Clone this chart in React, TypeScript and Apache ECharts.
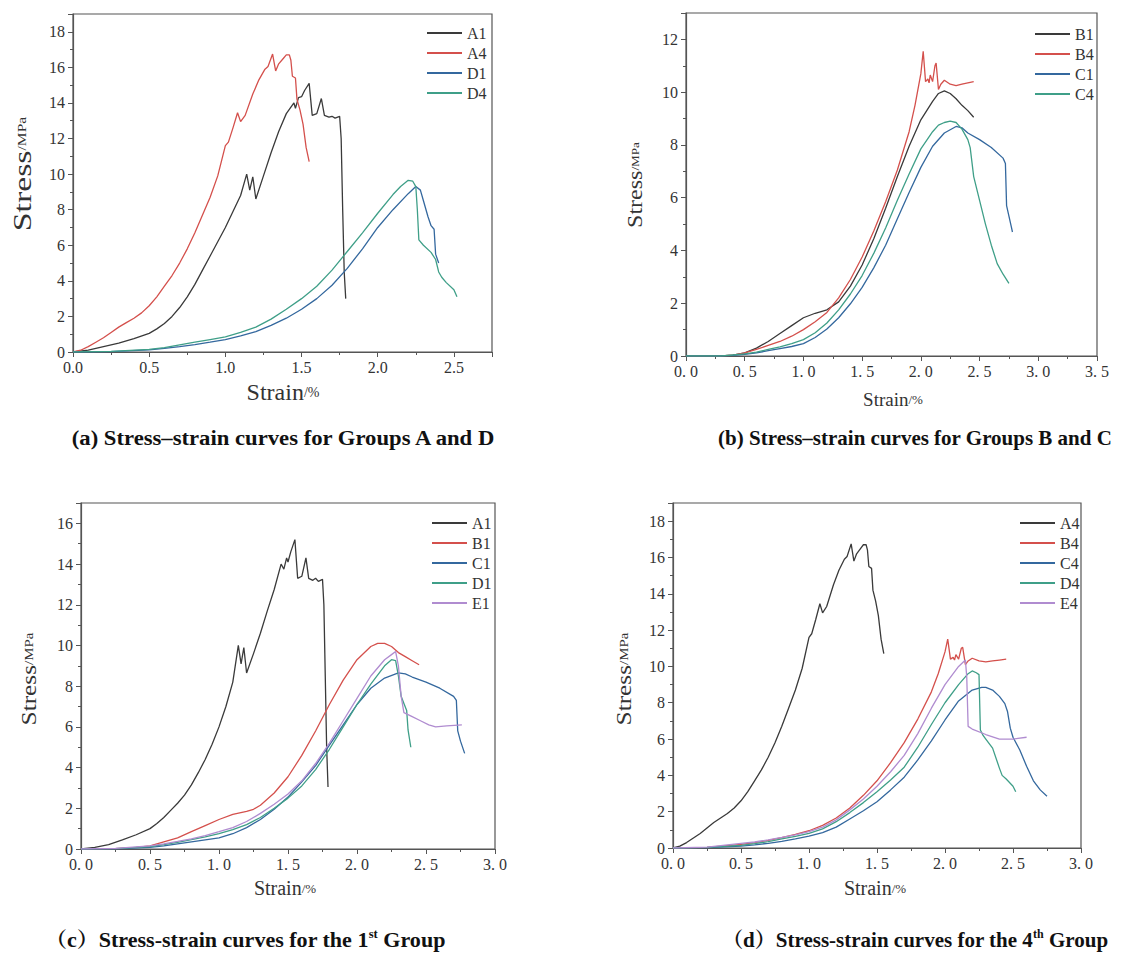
import React, { useEffect, useRef } from 'react';
import * as echarts from 'echarts';

type Pt = [number, number];

// ---------- Panel (a): Groups A and D ----------
const A1_a: Pt[] = [[0,0],[0.1,0.1],[0.2,0.3],[0.3,0.5],[0.4,0.75],[0.5,1.05],[0.55,1.3],[0.6,1.6],[0.65,2.0],[0.7,2.5],[0.75,3.1],[0.8,3.8],[0.85,4.6],[0.9,5.4],[0.95,6.2],[1.0,7.0],[1.05,7.9],[1.1,8.8],[1.14,10.0],[1.16,9.1],[1.18,9.85],[1.2,8.6],[1.25,9.9],[1.3,11.2],[1.35,12.4],[1.4,13.4],[1.45,14.0],[1.46,13.7],[1.48,14.3],[1.5,14.35],[1.52,14.7],[1.55,15.1],[1.57,13.3],[1.6,13.4],[1.63,14.25],[1.65,13.3],[1.68,13.2],[1.7,13.25],[1.72,13.15],[1.75,13.25],[1.76,12.0],[1.77,8.0],[1.78,4.5],[1.79,3.0]];
const A4_a: Pt[] = [[0,0],[0.05,0.1],[0.1,0.3],[0.15,0.55],[0.2,0.8],[0.25,1.1],[0.3,1.4],[0.35,1.65],[0.4,1.9],[0.45,2.2],[0.5,2.6],[0.55,3.1],[0.6,3.7],[0.65,4.3],[0.7,5.0],[0.75,5.8],[0.8,6.7],[0.85,7.7],[0.9,8.7],[0.95,9.9],[1.0,11.6],[1.02,11.8],[1.05,12.6],[1.08,13.45],[1.1,12.95],[1.13,13.3],[1.18,14.5],[1.22,15.3],[1.26,15.9],[1.28,16.05],[1.31,16.75],[1.33,15.8],[1.35,16.2],[1.38,16.5],[1.4,16.7],[1.42,16.7],[1.43,16.4],[1.44,15.5],[1.46,15.4],[1.47,14.2],[1.49,13.6],[1.51,12.8],[1.53,11.5],[1.55,10.7]];
const D1_a: Pt[] = [[0,0],[0.25,0.02],[0.5,0.12],[0.6,0.2],[0.7,0.3],[0.8,0.42],[0.9,0.55],[1.0,0.7],[1.1,0.9],[1.2,1.15],[1.3,1.5],[1.4,1.9],[1.5,2.4],[1.6,3.0],[1.7,3.75],[1.8,4.7],[1.9,5.8],[2.0,7.0],[2.1,8.0],[2.2,8.9],[2.25,9.3],[2.28,9.1],[2.3,8.5],[2.33,7.6],[2.35,7.1],[2.37,6.9],[2.38,5.5],[2.4,5.0]];
const D4_a: Pt[] = [[0,0],[0.25,0.03],[0.5,0.15],[0.6,0.25],[0.7,0.4],[0.8,0.55],[0.9,0.7],[1.0,0.85],[1.1,1.1],[1.2,1.4],[1.3,1.85],[1.4,2.4],[1.5,3.0],[1.6,3.7],[1.7,4.6],[1.8,5.65],[1.9,6.7],[2.0,7.8],[2.1,8.85],[2.15,9.3],[2.2,9.65],[2.23,9.6],[2.25,9.3],[2.26,8.0],[2.27,6.3],[2.3,6.0],[2.35,5.6],[2.38,5.2],[2.4,4.5],[2.42,4.2],[2.45,3.9],[2.5,3.5],[2.52,3.1]];

// ---------- Panel (b): Groups B and C ----------
const B1_b: Pt[] = [[0.3,0],[0.4,0.03],[0.5,0.12],[0.6,0.3],[0.7,0.55],[0.8,0.85],[0.9,1.15],[1.0,1.45],[1.1,1.62],[1.2,1.75],[1.3,2.05],[1.4,2.65],[1.5,3.45],[1.6,4.45],[1.7,5.6],[1.8,6.8],[1.9,7.95],[2.0,8.95],[2.1,9.65],[2.15,9.95],[2.2,10.05],[2.25,9.95],[2.3,9.75],[2.35,9.5],[2.4,9.3],[2.45,9.05]];
const B4_b: Pt[] = [[0,0],[0.3,0],[0.4,0.03],[0.5,0.12],[0.6,0.25],[0.7,0.4],[0.8,0.55],[0.9,0.75],[1.0,1.0],[1.1,1.3],[1.2,1.65],[1.3,2.2],[1.4,2.9],[1.5,3.75],[1.6,4.75],[1.7,5.85],[1.8,7.05],[1.9,8.5],[1.95,9.5],[2.0,10.7],[2.02,11.55],[2.04,10.4],[2.06,10.5],[2.07,10.35],[2.08,10.65],[2.1,10.4],[2.12,11.0],[2.13,11.1],[2.15,10.1],[2.17,10.3],[2.2,10.45],[2.25,10.3],[2.3,10.25],[2.35,10.3],[2.4,10.35],[2.45,10.4]];
const C1_b: Pt[] = [[0,0],[0.3,0],[0.4,0.02],[0.5,0.06],[0.6,0.12],[0.7,0.2],[0.8,0.28],[0.9,0.36],[1.0,0.47],[1.1,0.7],[1.2,1.02],[1.3,1.45],[1.4,1.98],[1.5,2.6],[1.6,3.35],[1.7,4.2],[1.8,5.2],[1.9,6.2],[2.0,7.15],[2.1,7.95],[2.2,8.45],[2.3,8.7],[2.35,8.65],[2.4,8.45],[2.5,8.2],[2.6,7.9],[2.7,7.5],[2.72,7.3],[2.73,5.7],[2.75,5.3],[2.77,4.9],[2.78,4.7]];
const C4_b: Pt[] = [[0,0],[0.3,0],[0.5,0.08],[0.6,0.15],[0.7,0.25],[0.8,0.35],[0.9,0.47],[1.0,0.62],[1.1,0.88],[1.2,1.25],[1.3,1.75],[1.4,2.35],[1.5,3.05],[1.6,3.9],[1.7,4.85],[1.8,5.9],[1.9,6.9],[2.0,7.85],[2.1,8.5],[2.15,8.75],[2.2,8.85],[2.25,8.9],[2.3,8.85],[2.35,8.6],[2.4,8.2],[2.42,7.9],[2.45,6.8],[2.5,5.9],[2.55,5.0],[2.6,4.2],[2.65,3.5],[2.7,3.1],[2.75,2.75]];

// ---------- Panel (c): 1st Group ----------
const A1_c: Pt[] = [[0,0],[0.1,0.08],[0.2,0.22],[0.3,0.45],[0.4,0.7],[0.5,1.0],[0.55,1.25],[0.6,1.55],[0.65,1.9],[0.7,2.25],[0.75,2.65],[0.8,3.15],[0.85,3.75],[0.9,4.4],[0.95,5.15],[1.0,6.0],[1.05,7.0],[1.1,8.2],[1.14,10.0],[1.16,9.1],[1.18,9.9],[1.2,8.65],[1.25,9.6],[1.3,10.6],[1.35,11.7],[1.4,12.75],[1.45,14.0],[1.47,13.75],[1.49,14.3],[1.5,14.1],[1.52,14.6],[1.55,15.2],[1.57,13.3],[1.6,13.4],[1.63,14.3],[1.65,13.3],[1.68,13.2],[1.7,13.3],[1.72,13.15],[1.75,13.25],[1.76,12.0],[1.77,8.5],[1.78,5.0],[1.79,3.05]];
const B1_c: Pt[] = [[0,0],[0.25,0.02],[0.4,0.08],[0.5,0.15],[0.6,0.35],[0.7,0.55],[0.8,0.85],[0.9,1.15],[1.0,1.45],[1.1,1.7],[1.2,1.85],[1.25,1.95],[1.3,2.15],[1.4,2.75],[1.5,3.55],[1.6,4.6],[1.7,5.8],[1.8,7.1],[1.9,8.3],[2.0,9.3],[2.1,9.95],[2.15,10.1],[2.2,10.1],[2.25,9.95],[2.3,9.65],[2.35,9.45],[2.4,9.25],[2.45,9.05]];
const C1_c: Pt[] = [[0,0],[0.25,0.01],[0.5,0.08],[0.6,0.15],[0.7,0.25],[0.8,0.35],[0.9,0.45],[1.0,0.55],[1.1,0.75],[1.2,1.05],[1.3,1.45],[1.4,1.95],[1.5,2.55],[1.6,3.3],[1.7,4.1],[1.8,5.1],[1.9,6.1],[2.0,7.1],[2.1,7.9],[2.2,8.4],[2.3,8.65],[2.35,8.6],[2.4,8.45],[2.5,8.2],[2.6,7.9],[2.7,7.5],[2.72,7.3],[2.73,5.8],[2.75,5.3],[2.78,4.7]];
const D1_c: Pt[] = [[0,0],[0.25,0.02],[0.5,0.12],[0.6,0.22],[0.7,0.33],[0.8,0.46],[0.9,0.6],[1.0,0.75],[1.1,0.95],[1.2,1.2],[1.3,1.55],[1.4,2.0],[1.5,2.5],[1.6,3.1],[1.7,3.9],[1.8,4.9],[1.9,6.0],[2.0,7.1],[2.1,8.1],[2.2,9.0],[2.25,9.3],[2.28,9.25],[2.3,8.5],[2.32,7.5],[2.34,7.15],[2.36,6.8],[2.37,5.85],[2.39,5.0]];
const E1_c: Pt[] = [[0,0],[0.25,0.03],[0.5,0.15],[0.6,0.25],[0.7,0.37],[0.8,0.5],[0.9,0.66],[1.0,0.85],[1.1,1.05],[1.2,1.35],[1.3,1.75],[1.4,2.2],[1.5,2.7],[1.6,3.35],[1.7,4.2],[1.8,5.2],[1.9,6.3],[2.0,7.4],[2.1,8.5],[2.2,9.3],[2.25,9.55],[2.28,9.7],[2.3,9.0],[2.32,7.5],[2.34,6.7],[2.4,6.5],[2.46,6.3],[2.52,6.1],[2.57,6.0],[2.65,6.05],[2.76,6.1]];

// ---------- Panel (d): 4th Group ----------
const A4_d: Pt[] = [[0,0],[0.05,0.1],[0.1,0.3],[0.15,0.55],[0.2,0.8],[0.25,1.1],[0.3,1.4],[0.35,1.65],[0.4,1.9],[0.45,2.2],[0.5,2.6],[0.55,3.1],[0.6,3.7],[0.65,4.3],[0.7,5.0],[0.75,5.8],[0.8,6.7],[0.85,7.7],[0.9,8.7],[0.95,9.9],[1.0,11.6],[1.02,11.8],[1.05,12.6],[1.08,13.45],[1.1,12.95],[1.13,13.3],[1.18,14.5],[1.22,15.3],[1.26,15.9],[1.28,16.05],[1.31,16.75],[1.33,15.8],[1.35,16.2],[1.38,16.5],[1.4,16.7],[1.42,16.7],[1.43,16.4],[1.44,15.5],[1.46,15.4],[1.47,14.2],[1.49,13.6],[1.51,12.8],[1.53,11.5],[1.55,10.7]];
const B4_d: Pt[] = [[0,0],[0.25,0.03],[0.5,0.2],[0.6,0.3],[0.7,0.42],[0.8,0.57],[0.9,0.75],[1.0,0.95],[1.1,1.25],[1.2,1.65],[1.3,2.2],[1.4,2.9],[1.5,3.7],[1.6,4.7],[1.7,5.8],[1.8,7.1],[1.9,8.6],[1.95,9.6],[2.0,10.8],[2.02,11.5],[2.04,10.4],[2.06,10.5],[2.07,10.35],[2.08,10.65],[2.1,10.4],[2.12,11.0],[2.13,11.05],[2.15,10.1],[2.17,10.3],[2.2,10.45],[2.25,10.3],[2.3,10.25],[2.35,10.3],[2.4,10.35],[2.45,10.4]];
const C4_d: Pt[] = [[0,0],[0.25,0.02],[0.5,0.1],[0.6,0.17],[0.7,0.26],[0.8,0.37],[0.9,0.5],[1.0,0.65],[1.1,0.85],[1.2,1.15],[1.3,1.6],[1.4,2.05],[1.5,2.55],[1.6,3.2],[1.7,3.9],[1.8,4.85],[1.9,5.9],[2.0,7.05],[2.1,8.1],[2.2,8.7],[2.27,8.85],[2.3,8.85],[2.35,8.7],[2.4,8.35],[2.44,7.95],[2.46,7.5],[2.48,6.6],[2.5,6.1],[2.55,5.4],[2.6,4.5],[2.65,3.7],[2.7,3.2],[2.75,2.85]];
const D4_d: Pt[] = [[0,0],[0.25,0.03],[0.5,0.15],[0.6,0.24],[0.7,0.35],[0.8,0.5],[0.9,0.64],[1.0,0.8],[1.1,1.05],[1.2,1.45],[1.3,1.95],[1.4,2.5],[1.5,3.1],[1.6,3.75],[1.7,4.45],[1.8,5.55],[1.9,6.8],[2.0,8.0],[2.1,9.0],[2.17,9.6],[2.2,9.75],[2.23,9.65],[2.25,9.55],[2.26,6.5],[2.28,6.2],[2.3,6.0],[2.35,5.5],[2.4,4.4],[2.42,4.0],[2.45,3.8],[2.5,3.4],[2.52,3.1]];
const E4_d: Pt[] = [[0,0],[0.25,0.05],[0.5,0.25],[0.6,0.33],[0.7,0.45],[0.8,0.58],[0.9,0.72],[1.0,0.9],[1.1,1.15],[1.2,1.55],[1.3,2.1],[1.4,2.7],[1.5,3.4],[1.6,4.2],[1.7,5.1],[1.8,6.3],[1.9,7.7],[2.0,9.0],[2.1,10.0],[2.15,10.35],[2.16,9.4],[2.17,6.7],[2.2,6.55],[2.3,6.25],[2.4,6.0],[2.5,6.0],[2.6,6.1]];

const BLACK = '#3a3a3a';
const RED = '#d4504c';
const BLUE = '#34689e';
const GREEN = '#3f9f88';
const PURPLE = '#b08cd0';
const AX = '#555';
const FONT = '"Liberation Serif", "Times New Roman", "Noto Serif CJK SC", "Noto Sans CJK SC", serif';

interface SeriesCfg { name: string; data: Pt[]; color: string }
interface PanelCfg {
  left: number; top: number;
  grid: { left: number; top: number; width: number; height: number };
  xMax: number; yMax: number; spaced: boolean;
  series: SeriesCfg[];
  legend: { left: number; top: number };
  yName: { x: number; y: number; s: number; m: number; scale: number };
  xName: { x: number; y: number; s: number; m: number };
  caption: { x: number; y: number; scale: number; text: string; sup?: string; tail?: string };
}

const panels: PanelCfg[] = [
  {
    left: 0, top: 0,
    grid: { left: 73, top: 14, width: 419, height: 338 },
    xMax: 2.75, yMax: 19, spaced: false,
    series: [
      { name: 'A1', data: A1_a, color: BLACK },
      { name: 'A4', data: A4_a, color: RED },
      { name: 'D1', data: D1_a, color: BLUE },
      { name: 'D4', data: D4_a, color: GREEN },
    ],
    legend: { left: 422, top: 20 },
    yName: { x: 22, y: 174, s: 26, m: 12, scale: 1.3 },
    xName: { x: 283, y: 392, s: 24, m: 14 },
    caption: { x: 283, y: 438, scale: 1.08, text: '(a) Stress\u2013strain curves for Groups A and D' },
  },
  {
    left: 570, top: 0,
    grid: { left: 116, top: 13, width: 411, height: 343 },
    xMax: 3.5, yMax: 13, spaced: true,
    series: [
      { name: 'B1', data: B1_b, color: BLACK },
      { name: 'B4', data: B4_b, color: RED },
      { name: 'C1', data: C1_b, color: BLUE },
      { name: 'C4', data: C4_b, color: GREEN },
    ],
    legend: { left: 460, top: 21 },
    yName: { x: 65, y: 185, s: 20, m: 11, scale: 1.2 },
    xName: { x: 323, y: 399, s: 19, m: 13 },
    caption: { x: 345, y: 438, scale: 1.0, text: '(b) Stress\u2013strain curves for Groups B and C' },
  },
  {
    left: 0, top: 478,
    grid: { left: 81, top: 25, width: 414, height: 346 },
    xMax: 3, yMax: 17, spaced: true,
    series: [
      { name: 'A1', data: A1_c, color: BLACK },
      { name: 'B1', data: B1_c, color: RED },
      { name: 'C1', data: C1_c, color: BLUE },
      { name: 'D1', data: D1_c, color: GREEN },
      { name: 'E1', data: E1_c, color: PURPLE },
    ],
    legend: { left: 427, top: 32 },
    yName: { x: 29, y: 201, s: 22, m: 13, scale: 1.15 },
    xName: { x: 285, y: 410, s: 20, m: 13 },
    caption: { x: 245, y: 462, scale: 1.05, text: '\uFF08c\uFF09Stress-strain curves for the 1', sup: 'st', tail: ' Group' },
  },
  {
    left: 570, top: 478,
    grid: { left: 103, top: 25, width: 408, height: 345 },
    xMax: 3, yMax: 19, spaced: true,
    series: [
      { name: 'A4', data: A4_d, color: BLACK },
      { name: 'B4', data: B4_d, color: RED },
      { name: 'C4', data: C4_d, color: BLUE },
      { name: 'D4', data: D4_d, color: GREEN },
      { name: 'E4', data: E4_d, color: PURPLE },
    ],
    legend: { left: 445, top: 32 },
    yName: { x: 54, y: 201, s: 22, m: 13, scale: 1.15 },
    xName: { x: 305, y: 410, s: 20, m: 13 },
    caption: { x: 345, y: 462, scale: 1.0, text: '\uFF08d\uFF09Stress-strain curves for the 4', sup: 'th', tail: ' Group' },
  },
];

function buildOption(c: PanelCfg) {
  const fmtX = (v: number) => (c.spaced ? v.toFixed(1).replace('.', '. ') : v.toFixed(1));
  const capText = c.caption.sup
    ? `{t|${c.caption.text}}{sup|${c.caption.sup}}{t|${c.caption.tail}}`
    : `{t|${c.caption.text}}`;
  return {
    animation: false,
    backgroundColor: '#fff',
    textStyle: { fontFamily: FONT },
    grid: { ...c.grid, show: true, borderColor: AX, borderWidth: 1.2, containLabel: false },
    xAxis: {
      type: 'value', min: 0, max: c.xMax, interval: 0.5,
      axisLine: { show: true, onZero: false, lineStyle: { color: AX, width: 1.2 } },
      axisTick: { show: true, length: 5, lineStyle: { color: AX, width: 1 } },
      minorTick: { show: true, splitNumber: 2, length: 3, lineStyle: { color: AX, width: 1 } },
      splitLine: { show: false },
      axisLabel: { formatter: fmtX, fontSize: 16, color: '#333', margin: 7, fontFamily: FONT, showMaxLabel: c.xMax % 0.5 === 0 },
    },
    yAxis: {
      type: 'value', min: 0, max: c.yMax, interval: 2,
      axisLine: { show: true, onZero: false, lineStyle: { color: AX, width: 1.2 } },
      axisTick: { show: true, length: 5, lineStyle: { color: AX, width: 1 } },
      minorTick: { show: true, splitNumber: 2, length: 3, lineStyle: { color: AX, width: 1 } },
      splitLine: { show: false },
      axisLabel: { fontSize: 16, color: '#333', margin: 8, fontFamily: FONT, showMaxLabel: c.yMax % 2 === 0 },
    },
    legend: {
      orient: 'vertical', left: c.legend.left, top: c.legend.top,
      itemWidth: 35, itemHeight: 2, itemGap: 4, icon: 'rect',
      textStyle: { fontSize: 16, color: '#333', fontFamily: FONT },
      data: c.series.map((s) => s.name),
    },
    series: c.series.map((s) => ({
      type: 'line', name: s.name, data: s.data,
      showSymbol: false, symbol: 'none', clip: true,
      lineStyle: { color: s.color, width: 1.3 },
      itemStyle: { color: s.color },
    })),
    graphic: [
      {
        type: 'text', x: c.yName.x, y: c.yName.y, rotation: Math.PI / 2, scaleX: c.yName.scale,
        style: {
          text: '{s|Stress}{m|/MPa}', fill: '#333', align: 'center', verticalAlign: 'middle',
          rich: {
            s: { fontSize: c.yName.s, fontFamily: FONT, fill: '#333', verticalAlign: 'middle' },
            m: { fontSize: c.yName.m, fontFamily: FONT, fill: '#333', verticalAlign: 'middle' },
          },
        },
      },
      {
        type: 'text', x: c.xName.x, y: c.xName.y,
        style: {
          text: '{s|Strain}{m|/%}', fill: '#333', align: 'center', verticalAlign: 'middle',
          rich: {
            s: { fontSize: c.xName.s, fontFamily: FONT, fill: '#333', verticalAlign: 'middle' },
            m: { fontSize: c.xName.m, fontFamily: FONT, fill: '#333', verticalAlign: 'middle' },
          },
        },
      },
      {
        type: 'text', x: c.caption.x, y: c.caption.y, scaleX: c.caption.scale,
        style: {
          text: capText, fill: '#111', align: 'center', verticalAlign: 'middle',
          rich: {
            t: { fontSize: 21, fontWeight: 'bold', fontFamily: FONT, fill: '#111', lineHeight: 24 },
            sup: { fontSize: 12, fontWeight: 'bold', fontFamily: FONT, fill: '#111', lineHeight: 24, padding: [0, 0, 12, 0] },
          },
        },
      },
    ],
  };
}

function Panel({ cfg }: { cfg: PanelCfg }) {
  const ref = useRef<HTMLDivElement>(null);
  useEffect(() => {
    if (!ref.current) return;
    const chart = echarts.init(ref.current, null, { renderer: 'svg' });
    chart.setOption(buildOption(cfg) as any);
    return () => chart.dispose();
  }, [cfg]);
  return (
    <div
      ref={ref}
      style={{ position: 'absolute', left: cfg.left, top: cfg.top, width: 570, height: 478 }}
    />
  );
}

export default function App() {
  return (
    <div style={{ position: 'absolute', left: 0, top: 0, width: 1140, height: 956, background: '#fff', overflow: 'hidden' }}>
      {panels.map((p, i) => (
        <Panel key={i} cfg={p} />
      ))}
    </div>
  );
}
